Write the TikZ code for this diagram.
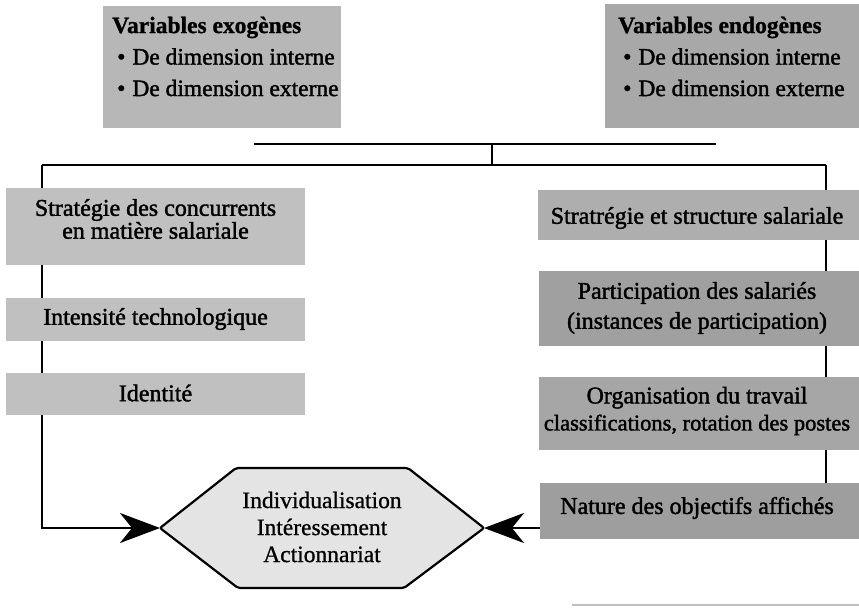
\documentclass[tikz,border=0pt]{standalone}
\usepackage{fontspec}
\setmainfont{Liberation Serif}
\newfontfamily\heavy[FakeBold=1.6]{Liberation Serif}
\newfontfamily\semiheavy[FakeBold=0.8]{Liberation Serif}
\usetikzlibrary{arrows.meta,fit,backgrounds}
\definecolor{gexo}{HTML}{B7B7B7}
\definecolor{gendo}{HTML}{A8A8A8}
\definecolor{gleft}{HTML}{C0C0C0}
\definecolor{grA}{HTML}{AEAEAE}
\definecolor{grB}{HTML}{A0A0A0}
\definecolor{grC}{HTML}{A6A6A6}
\definecolor{grD}{HTML}{9E9E9E}
\definecolor{ghex}{HTML}{E4E4E4}
\begin{document}
\begin{tikzpicture}[x=1pt,y=-1pt,
  box/.style={fill=#1, draw=none, inner sep=0pt},
  txt/.style={inner sep=0pt, align=center, font=\heavy\fontsize{24}{28}\selectfont},
  toptxt/.style={inner sep=0pt, align=left, font=\heavy\fontsize{23.5}{31.5}\selectfont},
  conn/.style={line width=2.6pt, line cap=butt, line join=miter},
  tip/.style={-{Stealth[length=40pt,width=30pt,inset=12pt]}}
]
\useasboundingbox (0,0) rectangle (859,608);

% top boxes
\node[box=gexo, fit={(103,6) (341,128)}] (exo) {};
\node[toptxt, anchor=west] (exot) at (112,56.5)
  {{\fontspec{Liberation Serif}[FakeBold=1]\bfseries Variables exogènes}\\\hspace*{5pt}•\hspace{7pt}De dimension interne\\\hspace*{5pt}•\hspace{7pt}De dimension externe};
\node[box=gendo, fit={(605,4) (859,128)}] (endo) {};
\node[toptxt, anchor=west] (endot) at (618,56.5)
  {{\fontspec{Liberation Serif}[FakeBold=1]\bfseries Variables endogènes}\\\hspace*{5pt}•\hspace{7pt}De dimension interne\\\hspace*{5pt}•\hspace{7pt}De dimension externe};

% left column
\node[box=gleft, fit={(6,188) (305,265)}] (s1) {};
\node[txt, font=\heavy\fontsize{24}{21}\selectfont] (s1t) at (155.5,219) {Stratégie des concurrents\\en matière salariale};
\node[box=gleft, fit={(6,298) (305,341)}] (s2) {};
\node[txt] (s2t) at (155.5,319) {Intensité technologique};
\node[box=gleft, fit={(6,373) (305,415)}] (s3) {};
\node[txt] (s3t) at (155.5,393) {Identité};

% right column
\node[box=grA, fit={(538,190) (859,240)}] (r1) {};
\node[txt] (r1t) at (697,218) {Stratrégie et structure salariale};
\node[box=grB, fit={(539,271) (859,346)}] (r2) {};
\node[txt, font=\heavy\fontsize{24}{30}\selectfont] (r2t) at (697,308) {Participation des salariés\\(instances de participation)};
\node[box=grC, fit={(539,377) (859,450)}] (r3) {};
\node[txt, font=\heavy\fontsize{24}{27}\selectfont] (r3t) at (697,411) {Organisation du travail\\{\fontsize{22.5}{27}\selectfont classifications, rotation des postes}};
\node[box=grD, fit={(540,483) (859,539)}] (r4) {};
\node[txt] (r4t) at (697,508) {Nature des objectifs affichés};

% hexagon
\coordinate (hexL) at (160,528);
\coordinate (hexR) at (484,528);
\path[fill=ghex, draw=black, line width=2.2pt, rounded corners=2pt]
  (hexL) -- (236,468) -- (408,468) -- (hexR) -- (404,588) -- (238,588) -- cycle;
\node[txt, font=\semiheavy\fontsize{23.5}{27}\selectfont] (hex) at (322,527) {Individualisation\\Intéressement\\Actionnariat};

% connectors
\coordinate (tl) at (254,144);
\coordinate (tr) at (716,144);
\coordinate (tm) at (492,144);
\coordinate (bm) at (492,165);
\coordinate (bl) at (42,165);
\coordinate (br) at (826,165);
\begin{scope}[on background layer]
  \draw[conn] (tl) -- (tr);
  \draw[conn] (tm) -- (bm);
  \draw[conn] (bl) -- (br);
  \draw[conn] (br) -- (br |- r4.north);
  \draw[conn] (bl) -- (bl |- hexL);
\end{scope}
\draw[conn, tip] ([xshift=-1.3pt]bl |- hexL) -- (hexL);
\draw[conn, tip] (r4.west |- hexR) -- (hexR);

% stray scan rule at the bottom
\draw[gray!50, line width=2pt] (572,605) -- (859,605);
\end{tikzpicture}
\end{document}
